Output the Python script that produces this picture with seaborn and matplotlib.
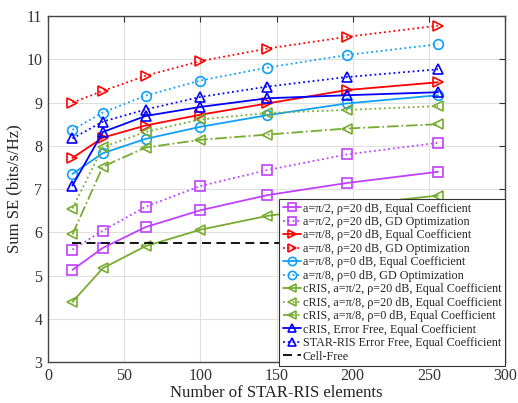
import matplotlib
matplotlib.use("Agg")
import matplotlib.pyplot as plt
import seaborn as sns
import pandas as pd

N = [16, 36, 64, 100, 144, 196, 256]

pi2_20_eq = [5.13, 5.64, 6.12, 6.51, 6.86, 7.14, 7.40]
pi2_20_gd = [5.60, 6.04, 6.59, 7.07, 7.44, 7.80, 8.07]
pi8_20_eq = [7.72, 8.19, 8.47, 8.72, 8.98, 9.29, 9.47]
pi8_20_gd = [9.00, 9.27, 9.62, 9.96, 10.25, 10.52, 10.78]
pi8_0_eq = [7.35, 7.83, 8.16, 8.44, 8.71, 8.98, 9.17]
pi8_0_gd = [8.37, 8.77, 9.16, 9.51, 9.81, 10.10, 10.35]
cris_pi2_20 = [4.39, 5.17, 5.68, 6.06, 6.38, 6.62, 6.85]
cris_pi8_20 = [6.55, 7.97, 8.32, 8.61, 8.76, 8.83, 8.92]
cris_pi8_0 = [5.95, 7.52, 7.96, 8.14, 8.26, 8.40, 8.50]
cris_free = [7.08, 8.32, 8.69, 8.90, 9.10, 9.17, 9.24]
star_free = [8.17, 8.56, 8.84, 9.13, 9.37, 9.59, 9.77]
cell_free = [5.75] * 7

labels = [
    "a=π/2, ρ=20 dB, Equal Coefficient",
    "a=π/2, ρ=20 dB, GD Optimization",
    "a=π/8, ρ=20 dB, Equal Coefficient",
    "a=π/8, ρ=20 dB, GD Optimization",
    "a=π/8, ρ=0 dB, Equal Coefficient",
    "a=π/8, ρ=0 dB, GD Optimization",
    "cRIS, a=π/2, ρ=20 dB, Equal Coefficient",
    "cRIS, a=π/8, ρ=20 dB, Equal Coefficient",
    "cRIS, a=π/8, ρ=0 dB, Equal Coefficient",
    "cRIS, Error Free, Equal Coefficient",
    "STAR-RIS Error Free, Equal Coefficient",
    "Cell-Free",
]

purple = "#C040FF"
red = "#FF0000"
lblue = "#10A0F8"
green = "#77AC30"
blue = "#0000FF"

series = [
    (pi2_20_eq, purple, "-", "s"),
    (pi2_20_gd, purple, ":", "s"),
    (pi8_20_eq, red, "-", ">"),
    (pi8_20_gd, red, ":", ">"),
    (pi8_0_eq, lblue, "-", "o"),
    (pi8_0_gd, lblue, ":", "o"),
    (cris_pi2_20, green, "-", "<"),
    (cris_pi8_20, green, ":", "<"),
    (cris_pi8_0, green, "-.", "<"),
    (cris_free, blue, "-", "^"),
    (star_free, blue, ":", "^"),
]

sns.set_theme(style="whitegrid")
plt.rcParams["font.family"] = ["Liberation Serif", "DejaVu Serif"]

fig = plt.figure(figsize=(5.18, 4.03), dpi=100)
ax = fig.add_axes([0.0927, 0.1017, 0.8823, 0.8583])

for (vals, col, ls, mk), lab in zip(series, labels):
    df = pd.DataFrame({"N": N, "SE": vals})
    sns.lineplot(data=df, x="N", y="SE", ax=ax, color=col, linestyle=ls,
                 marker=mk, markersize=7, markerfacecolor="none",
                 markeredgecolor=col, markeredgewidth=1.2, linewidth=1.3,
                 label=lab)

dfc = pd.DataFrame({"N": N, "SE": cell_free})
sns.lineplot(data=dfc, x="N", y="SE", ax=ax, color="black", linestyle=(0, (5, 3)),
             linewidth=1.3, label=labels[-1])

ax.set_xlim(0, 300)
ax.set_ylim(3, 11)
ax.set_xticks([0, 50, 100, 150, 200, 250, 300])
ax.set_yticks(range(3, 12))
ax.set_xlabel("Number of STAR-RIS elements", fontsize=12, color="#222222", labelpad=1)
ax.set_ylabel("Sum SE (bits/s/Hz)", fontsize=12, color="#222222", labelpad=3)
ax.tick_params(axis="both", direction="in", length=4, width=0.8, labelsize=11.5,
               colors="#333333", top=True, right=True, pad=4)
ax.grid(True, color="#E0E0E0", linewidth=0.8)
for s in ax.spines.values():
    s.set_visible(True)
    s.set_color("#444444")
    s.set_linewidth(1.0)
ax.set_facecolor("white")

leg = ax.legend(loc="lower right", bbox_to_anchor=(1.0, -0.012), fontsize=8.7,
                frameon=True, fancybox=False, framealpha=1, edgecolor="#333333",
                numpoints=1, markerscale=0.85, handlelength=1.5, handletextpad=0.15,
                labelspacing=0.12, borderpad=0.3, borderaxespad=0)
leg.get_frame().set_linewidth(0.8)

fig.savefig("out.png", dpi=100, facecolor="white")
